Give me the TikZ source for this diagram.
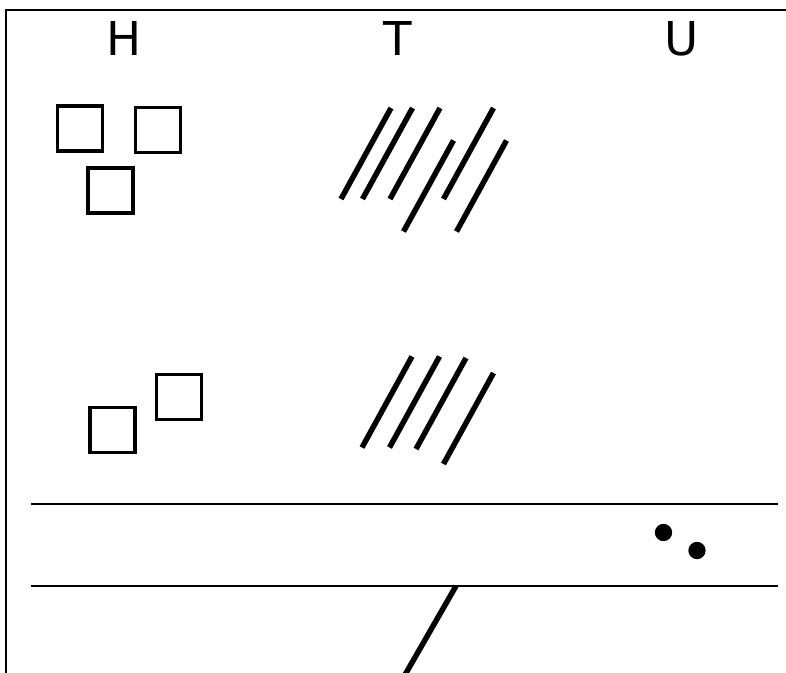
\documentclass[tikz,border=0pt]{standalone}
\usepackage{fontspec}
\setmainfont{DejaVu Sans}
\usetikzlibrary{positioning}

\begin{document}
\begin{tikzpicture}[x=0.75pt, y=-0.75pt,
  lbl/.style={font=\fontsize{35}{42}\selectfont, inner sep=0pt, anchor=base},
  sq/.style={draw, line width=2.5pt, minimum size=33.75pt, inner sep=0pt},
  bar/.style={line width=4.1pt},
  hline/.style={line width=1.5pt},
  spot/.style={circle, fill=black, minimum size=13pt, inner sep=0pt}]
  \useasboundingbox (0,0) rectangle (786,673);
  % frame
  \draw[hline] (6,700) |- (800,10);
  % column heads
  \node[lbl] (colH) at (124.5,56) {H};
  \node[lbl] (colT) at (397.5,56) {T};
  \node[lbl] (colU) at (682,56) {U};
  % squares, upper row
  \node[sq] (h1) at (80,128.5) {};
  \node[sq] (h2) at (158,130) {};
  \node[sq] (h3) at (110.5,190.5) {};
  % squares, lower row
  \node[sq] (h4) at (112.5,430) {};
  \node[sq] (h5) at (179,397) {};
  % strokes, upper row
  \foreach \x/\y in {391/108, 412.5/108, 440/108, 453.5/140.5, 493.5/108, 506.5/140.5}
    \draw[bar] (\x,\y) -- ++(-50,91);
  % strokes, lower row
  \foreach \x/\y in {412/356.5, 439.5/356.5, 466/358, 493.5/373}
    \draw[bar] (\x,\y) -- ++(-50,91);
  % band
  \coordinate (b1) at (31,504);
  \coordinate (b2) at (778,504);
  \coordinate (b3) at (31,586);
  \coordinate (b4) at (778,586);
  \draw[hline] (b1) -- (b2);
  \draw[hline] (b3) -- (b4);
  \node[spot] (d1) at (663.5,532.5) {};
  \node[spot] (d2) at (697,550.5) {};
  % stroke below the band
  \coordinate (s) at (456,586);
  \draw[bar] (s) -- ++(-58,101);
\end{tikzpicture}
\end{document}
